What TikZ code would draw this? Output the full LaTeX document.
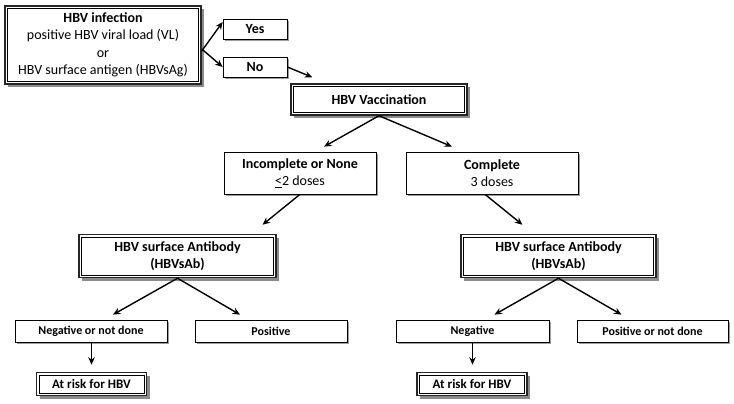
\documentclass[tikz,border=0pt]{standalone}
\usepackage{fontspec}
\setmainfont{Carlito}
\usetikzlibrary{arrows.meta,shadows}

\tikzset{
  box/.style={draw=black, line width=0.7pt, fill=white, align=center, inner sep=1pt,
    drop shadow={shadow xshift=2.2pt, shadow yshift=-2.2pt, fill=black!55, opacity=0.7}},
  dbox/.style={draw=black!85, line width=1.5pt, fill=white, align=center, inner sep=1pt,
    drop shadow={shadow xshift=3pt, shadow yshift=-3pt, fill=black!60, opacity=0.75},
    path picture={\draw[black, line width=0.6pt]
      ([shift={(2.6pt,-2.6pt)}]path picture bounding box.north west) rectangle
      ([shift={(-2.6pt,2.6pt)}]path picture bounding box.south east);}},
  big/.style={font=\fontsize{14}{17.5}\selectfont},
  bigb/.style={font=\fontsize{14}{17.5}\selectfont\bfseries},
  small/.style={font=\fontsize{12}{13}\selectfont\bfseries},
  arr/.style={-{Stealth[length=7.5pt,width=6.5pt]}, black, line width=1.4pt}
}

\begin{document}
\begin{tikzpicture}[x=1pt, y=-1pt]
        \useasboundingbox (0,0) rectangle (734,404);

        \node[dbox, big, minimum width=196pt, minimum height=78pt] (inf) at (103,45)
          {\textbf{HBV infection}\\positive HBV viral load (VL)\\or\\HBV surface antigen (HBVsAg)};
        \node[box, bigb, minimum width=64pt, minimum height=20pt] (yes) at (255,29) {Yes};
        \node[box, bigb, minimum width=64pt, minimum height=20pt] (no) at (255,67) {No};

        \node[dbox, bigb, minimum width=176pt, minimum height=31pt] (vac) at (379,99.5) {HBV Vaccination};

        \node[box, big, minimum width=152pt, minimum height=42pt] (inc) at (300,173)
          {\textbf{Incomplete or None}\\\underline{<}2 doses};
        \node[box, big, minimum width=172pt, minimum height=42pt] (com) at (492,173)
          {\textbf{Complete}\\3 doses};

        \node[dbox, bigb, minimum width=197pt, minimum height=43pt] (abl) at (177.5,256)
          {HBV surface Antibody\\(HBVsAb)};
        \node[dbox, bigb, minimum width=195pt, minimum height=43pt] (abr) at (558.5,256)
          {HBV surface Antibody\\(HBVsAb)};

        \node[box, small, minimum width=152pt, minimum height=22pt] (nl) at (91,331) {Negative or not done};
        \node[box, small, minimum width=152pt, minimum height=22pt] (pl) at (271,331) {Positive};
        \node[box, small, minimum width=153pt, minimum height=22pt] (nr) at (472.5,331) {Negative};
        \node[box, small, minimum width=151pt, minimum height=22pt] (pr) at (652.5,331) {Positive or not done};

        \node[dbox, minimum width=110pt, minimum height=23pt, font=\fontsize{13}{15}\selectfont\bfseries] (rl) at (91.5,384) {At risk for HBV};
        \node[dbox, minimum width=110pt, minimum height=23pt, font=\fontsize{13}{15}\selectfont\bfseries] (rr) at (472,384) {At risk for HBV};

        \draw[arr] ([yshift=-6pt]inf.east) -- ([yshift=7pt]yes.west);
        \draw[arr] ([yshift=-4pt]inf.east) -- (no.west);
        \draw[arr] (no.east) -- ([xshift=22pt,yshift=6pt]vac.north west);
        \draw[arr] (vac.south) -- ([xshift=24pt,yshift=5pt]inc.north);
        \draw[arr] (vac.south) -- ([xshift=-40pt,yshift=5pt]com.north);
        \draw[arr] (inc.south) -- ([xshift=85pt,yshift=9pt]abl.north);
        \draw[arr] ([xshift=-7pt]com.south) -- ([xshift=-36pt,yshift=9pt]abr.north);
        \draw[arr] (abl.south) -- ([xshift=22pt,yshift=5pt]nl.north);
        \draw[arr] (abl.south) -- ([xshift=-31pt,yshift=5pt]pl.north);
        \draw[arr] (abr.south) -- ([xshift=22pt,yshift=5pt]nr.north);
        \draw[arr] (abr.south) -- ([xshift=-31pt,yshift=5pt]pr.north);
        \draw[arr] (nl.south -| rl.north) -- ([yshift=7pt]rl.north);
        \draw[arr] (nr.south) -- ([yshift=7pt]nr.south |- rr.north);
    \end{tikzpicture}
\end{document}
